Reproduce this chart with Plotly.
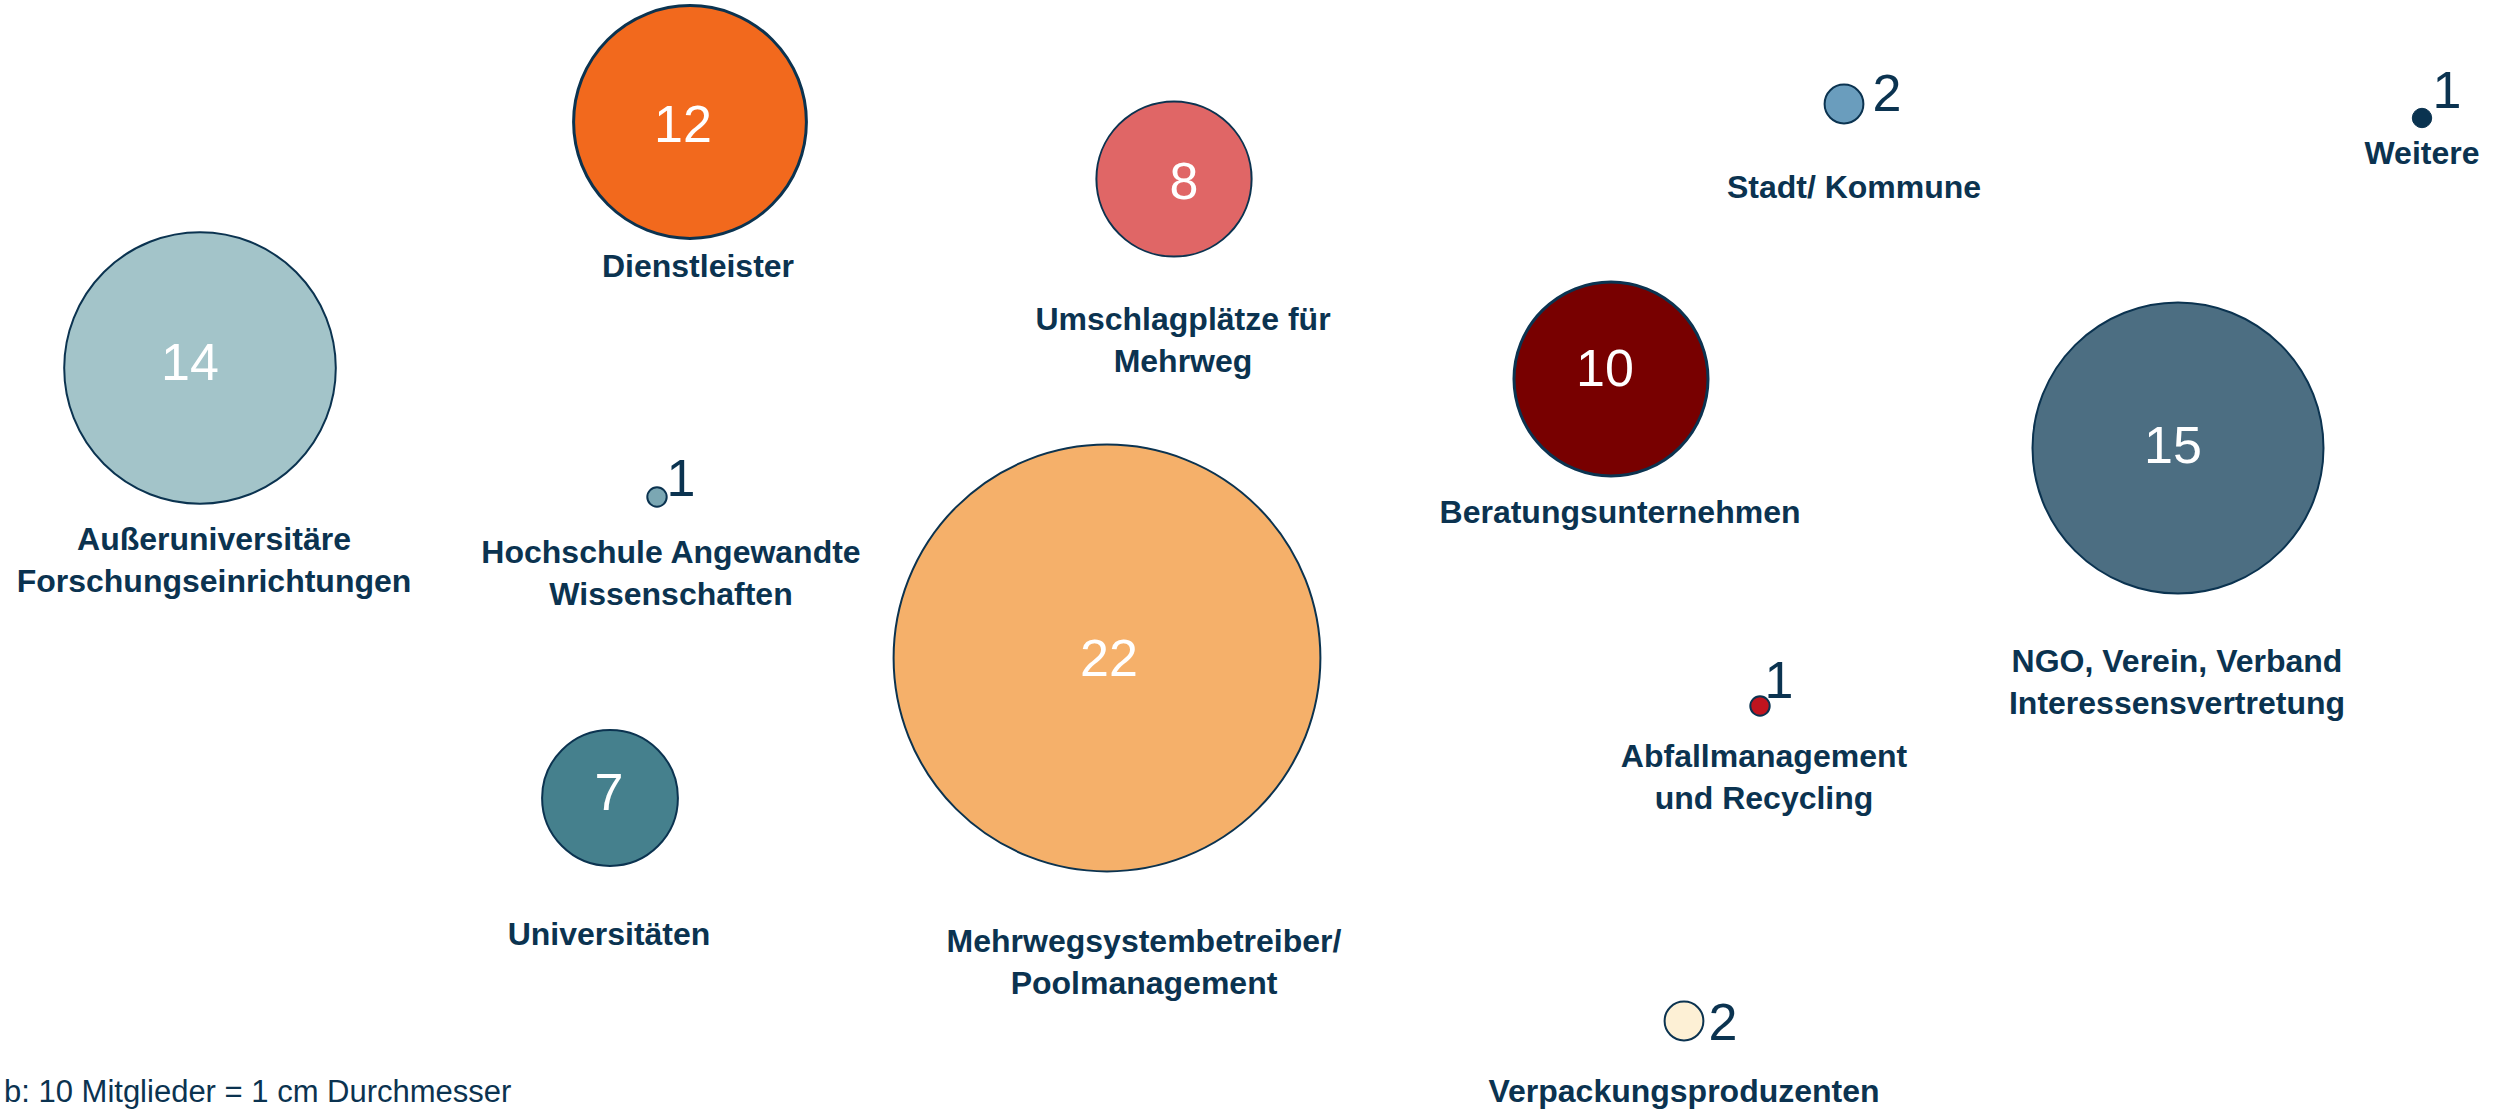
import plotly.graph_objects as go

# ---- data ----
categories = [
    "Außeruniversitäre<br>Forschungseinrichtungen",
    "Dienstleister",
    "Umschlagplätze für<br>Mehrweg",
    "Hochschule Angewandte<br>Wissenschaften",
    "Universitäten",
    "Mehrwegsystembetreiber/<br>Poolmanagement",
    "Beratungsunternehmen",
    "Abfallmanagement<br>und Recycling",
    "Verpackungsproduzenten",
    "Stadt/ Kommune",
    "Weitere",
    "NGO, Verein, Verband<br>Interessensvertretung",
]
members = [14, 12, 8, 1, 7, 22, 10, 1, 2, 2, 1, 15]
footnote = "b: 10 Mitglieder = 1 cm Durchmesser"

# ---- layout (pixel positions on the canvas) ----
bubble_x = [200, 690, 1174, 657, 610, 1107, 1611, 1760, 1684, 1844, 2422, 2178]
bubble_y = [368, 122, 179, 497, 798, 658, 379, 706, 1021, 104, 118, 448]
number_x = [190, 683, 1184, 681, 609, 1109, 1605, 1779, 1723, 1887, 2447, 2173]
number_y = [367, 129, 186, 483, 797, 663, 373, 685, 1027, 98, 95, 450]
label_x = [214, 698, 1183, 671, 609, 1144, 1620, 1764, 1684, 1854, 2422, 2177]
label_y = [563, 269, 343, 576, 937, 965, 515, 780, 1094, 190, 156, 685]

colors = ["#A3C4C9", "#F2691D", "#E06666", "#7BA7B3", "#45808D", "#F5B06A",
          "#780000", "#C0141F", "#FDF0D5", "#6A9DBD", "#0A3350", "#4C6E82"]
outline_w = [2, 3, 2, 2, 2, 2, 3, 2, 2, 2, 1, 2]
NAVY = "#0B3350"
PX_PER_MEMBER = 19.4  # 10 members = 1 cm diameter

sizes = [v * PX_PER_MEMBER for v in members]
inside = [v >= 7 for v in members]
num_colors = ["white" if i else NAVY for i in inside]

fig = go.Figure()

fig.add_trace(go.Scatter(
    x=bubble_x, y=bubble_y, mode="markers",
    marker=dict(size=sizes, color=colors, opacity=1,
                line=dict(color=NAVY, width=outline_w)),
    hoverinfo="skip", showlegend=False,
))

fig.add_trace(go.Scatter(
    x=number_x, y=number_y, mode="text",
    text=[str(v) for v in members], textposition="middle center",
    textfont=dict(family="Liberation Sans, Arial", size=52, color=num_colors),
    hoverinfo="skip", showlegend=False, cliponaxis=False,
))

fig.add_trace(go.Scatter(
    x=label_x, y=label_y, mode="text",
    text=categories, textposition="middle center",
    textfont=dict(family="Liberation Sans, Arial", size=32, color=NAVY, weight="bold"),
    hoverinfo="skip", showlegend=False, cliponaxis=False,
))

fig.add_annotation(
    x=2, y=1091, xref="x", yref="y", text=footnote, showarrow=False,
    xanchor="left", yanchor="middle",
    font=dict(family="Liberation Sans, Arial", size=31, color=NAVY),
)

fig.update_xaxes(range=[0, 2508], visible=False, showgrid=False, zeroline=False)
fig.update_yaxes(range=[1112, 0], visible=False, showgrid=False, zeroline=False)
fig.update_layout(
    width=2508, height=1112, margin=dict(l=0, r=0, t=0, b=0),
    paper_bgcolor="white", plot_bgcolor="white",
)

fig.write_html("out.html", post_script="document.body.style.margin='0';")
